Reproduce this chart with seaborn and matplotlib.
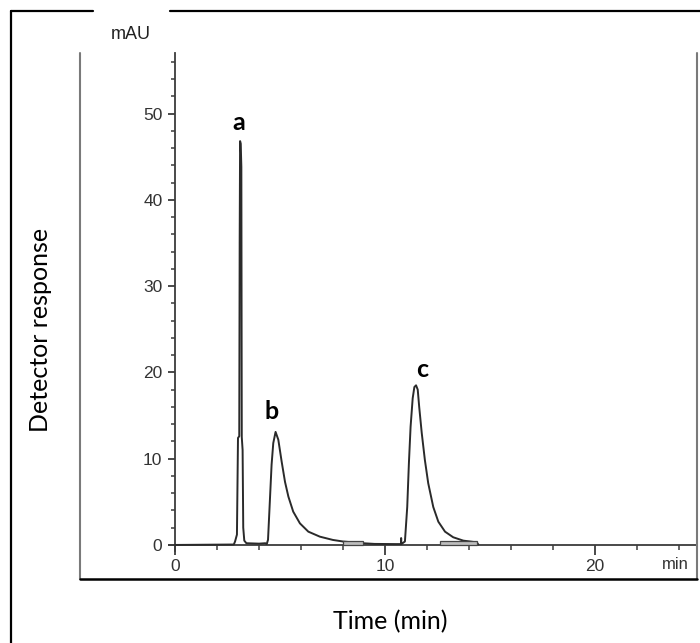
import matplotlib
matplotlib.use("Agg")
import matplotlib.pyplot as plt
from matplotlib import font_manager
from matplotlib.lines import Line2D
from matplotlib.ticker import MultipleLocator
import seaborn as sns

# -------------------------------------
# DATA
# -------------------------------------
time_min = [0.0, 2.80, 2.86, 2.95, 3.00, 3.06, 3.08, 3.10, 3.13, 3.16,
            3.18, 3.22, 3.25, 3.30, 3.40, 4.00, 4.30, 4.37, 4.43, 4.52,
            4.60, 4.68, 4.79, 4.92, 5.08, 5.24, 5.40, 5.63, 5.95, 6.35,
            6.90, 7.52, 8.00, 8.95, 9.50, 10.50, 10.76, 10.77, 10.78, 10.95,
            11.06, 11.14, 11.22, 11.32, 11.40, 11.48, 11.56, 11.63, 11.75, 11.90,
            12.06, 12.30, 12.54, 12.86, 13.25, 13.73, 14.37, 14.45]
signal_mau = [0.0, 0.05, 0.4, 1.2, 12.4, 12.6, 35.0, 46.8, 46.5, 43.8,
              12.5, 11.0, 2.0, 0.5, 0.2, 0.15, 0.2, 0.1, 0.6, 5.2,
              9.3, 11.8, 13.1, 12.2, 9.65, 7.3, 5.6, 3.86, 2.5, 1.54,
              0.96, 0.58, 0.4, 0.2, 0.12, 0.1, 0.1, 0.8, 0.1, 0.4,
              4.4, 9.5, 13.7, 17.0, 18.3, 18.5, 18.0, 16.0, 13.0, 9.85,
              7.15, 4.4, 2.7, 1.54, 0.89, 0.5, 0.3, 0.05]

# integration markers on the baseline (start, end in min)
marker_start = [8.00, 12.60]
marker_end = [8.95, 14.40]

peak_names = ["a", "b", "c"]
peak_time = [3.02, 4.60, 11.75]
peak_label_y = [49.0, 15.5, 20.3]

x_major = [0, 10, 20]
y_major = [0, 10, 20, 30, 40, 50]

# -------------------------------------
# STYLE
# -------------------------------------
sns.set_style("white")
names = {f.name for f in font_manager.fontManager.ttflist}
tick_font = "Liberation Sans Narrow" if "Liberation Sans Narrow" in names else "Liberation Sans"
label_font = "Lato"
plt.rcParams["font.family"] = [tick_font, "DejaVu Sans"]

fig = plt.figure(figsize=(7.0, 6.43), dpi=100)
ax = fig.add_axes([0.241, 0.1431, 0.7547, 0.7743])

line_col = "#2a2a2a"
axis_col = "#3c3c3c"

sns.lineplot(x=time_min, y=signal_mau, ax=ax, color=line_col, linewidth=1.4,
             sort=False, estimator=None, zorder=3)

widths = [e - s for s, e in zip(marker_start, marker_end)]
ax.bar(marker_start, [0.4] * len(marker_start), width=widths, bottom=0.0,
       align="edge", color="#bdbdbd", edgecolor="#444444", linewidth=0.9, zorder=4)

ax.set_xlim(-0.3, 24.86)
ax.set_ylim(-0.7, 57.0)

for side in ["top", "right"]:
    ax.spines[side].set_visible(False)
ax.spines["left"].set_position(("data", 0))
ax.spines["bottom"].set_position(("data", 0))
for side in ["left", "bottom"]:
    ax.spines[side].set_color(axis_col)
    ax.spines[side].set_linewidth(1.3)

ax.set_xticks(x_major)
ax.set_yticks(y_major)
ax.xaxis.set_minor_locator(MultipleLocator(2))
ax.yaxis.set_minor_locator(MultipleLocator(2))
ax.tick_params(which="both", bottom=True, left=True, top=False, right=False)
ax.tick_params(axis="x", which="major", direction="out", length=7, width=1.3,
               color=axis_col, labelsize=12.5, labelcolor="#333333", pad=3)
ax.tick_params(axis="x", which="minor", direction="out", length=3.5, width=1.1,
               color=axis_col)
ax.tick_params(axis="y", which="major", direction="out", length=5, width=1.3,
               color=axis_col, labelsize=12.5, labelcolor="#333333", pad=4)
ax.tick_params(axis="y", which="minor", direction="out", length=3, width=1.1,
               color=axis_col)
ax.set_xlabel("")
ax.set_ylabel("")
ax.grid(False)

ax.text(0.985, -0.027, "min", transform=ax.transAxes, ha="right", va="center",
        fontsize=12, color="#333333")

for name, t, y in zip(peak_names, peak_time, peak_label_y):
    ax.text(t, y, name, ha="center", va="center", fontsize=18,
            fontweight="bold", family=[label_font, "DejaVu Sans"], color="black")

# -------------------------------------
# FRAMES AND OUTER LABELS
# -------------------------------------
# outer frame (left + top with a gap behind the unit label)
fig.add_artist(Line2D([0.0157, 0.0157], [0.0, 0.983], color="black", linewidth=1.6))
fig.add_artist(Line2D([0.0157, 0.133], [0.983, 0.983], color="black", linewidth=1.6))
fig.add_artist(Line2D([0.243, 1.0], [0.983, 0.983], color="black", linewidth=1.6))
# inner box of the detector trace
fig.add_artist(Line2D([0.1143, 0.1143], [0.0995, 0.9176], color="#7a7a7a", linewidth=1.5))
fig.add_artist(Line2D([0.9957, 0.9957], [0.0995, 0.9176], color="#7a7a7a", linewidth=1.5))
fig.add_artist(Line2D([0.1143, 0.9957], [0.0995, 0.0995], color="black", linewidth=1.8))

fig.text(0.187, 0.9456, "mAU", ha="center", va="center", fontsize=13,
         family=["Liberation Sans", "DejaVu Sans"], color="#222222")
fig.text(0.058, 0.487, "Detector response", rotation=90, ha="center", va="center",
         fontsize=18, family=[label_font, "DejaVu Sans"], color="black")
fig.text(0.557, 0.033, "Time (min)", ha="center", va="center",
         fontsize=18, family=[label_font, "DejaVu Sans"], color="black")

fig.savefig("out.png", dpi=100)
